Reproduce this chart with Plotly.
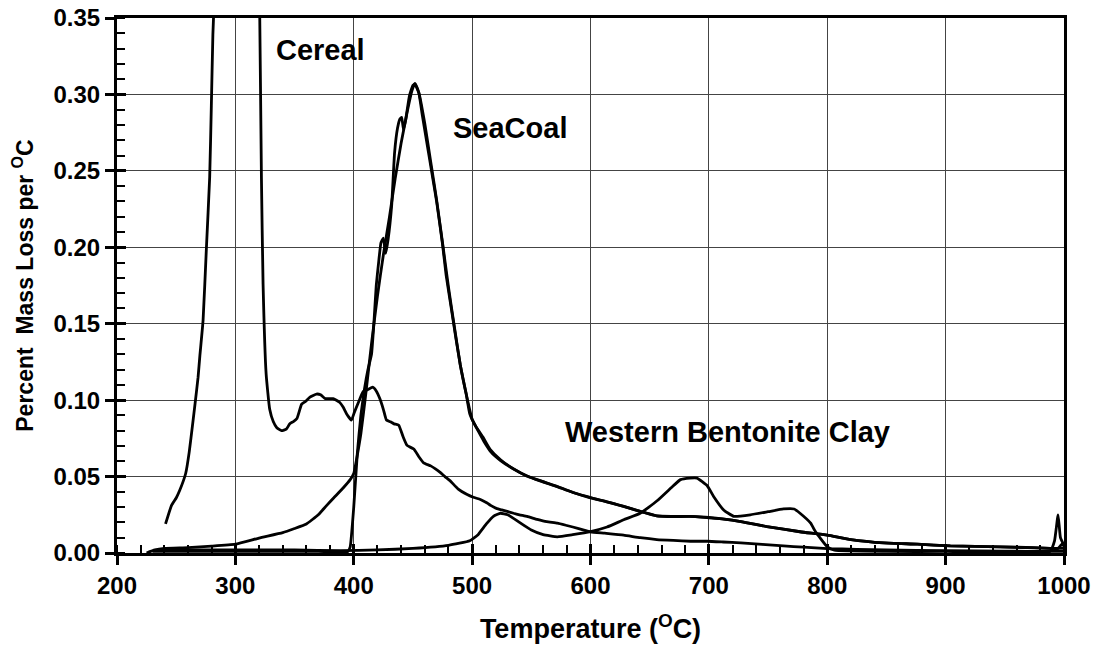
import plotly.graph_objects as go

# Derivative mass-loss curves (percent mass loss per degree C) versus temperature (C)

cereal_T = [241, 246, 250, 253, 258, 261, 264, 266, 268.5, 270, 272.7, 275.5, 278.3, 279.7,
            281, 282.5, 285, 292, 300, 310, 318, 320.6, 322, 323.4, 326, 329, 332, 335, 339,
            343, 346, 349, 352, 356, 359, 363, 368.5, 372, 376, 382.5, 388, 391, 394, 398,
            400.5, 404, 408, 412, 416, 419, 422, 425, 427.6, 431, 434, 438, 441.7, 445, 450.7,
            455, 459, 465, 469, 473, 477, 481.7, 488, 495.8, 501, 507, 512.7, 516, 521, 525,
            529.6, 535, 540, 546.5, 555, 563, 572, 580, 590, 600, 612, 628, 642, 656, 670,
            684.5, 698.6, 712, 727, 745, 763, 780, 800, 825, 850, 900, 950, 990, 1000]
cereal_v = [0.019, 0.031, 0.036, 0.041, 0.052, 0.066, 0.085, 0.098, 0.115, 0.129, 0.152, 0.199,
            0.246, 0.2925, 0.339, 0.37, 0.45, 0.62, 0.72, 0.62, 0.45, 0.35, 0.246, 0.176, 0.117,
            0.094, 0.086, 0.082, 0.080, 0.081, 0.0846, 0.086, 0.088, 0.0974, 0.099, 0.102, 0.104,
            0.1035, 0.101, 0.101, 0.0986, 0.0955, 0.091, 0.0869, 0.092, 0.0986, 0.1056, 0.107,
            0.1085, 0.106, 0.101, 0.094, 0.087, 0.0858, 0.0845, 0.0836, 0.076, 0.0704, 0.068,
            0.063, 0.059, 0.057, 0.055, 0.0527, 0.050, 0.047, 0.042, 0.0383, 0.0365, 0.035,
            0.0327, 0.031, 0.029, 0.0282, 0.0272, 0.026, 0.025, 0.0239, 0.022, 0.0205, 0.0195,
            0.018, 0.016, 0.0139, 0.013, 0.0117, 0.010, 0.0088, 0.0082, 0.0077, 0.0077, 0.0072,
            0.0066, 0.0056, 0.0046, 0.0038, 0.0029, 0.0024, 0.002, 0.0015, 0.0012, 0.001, 0.001]

seacoal1_T = [225, 232, 240, 260, 280, 300, 320, 340, 350, 360, 370, 377, 383, 391, 397, 400,
              403, 406, 410, 415, 420, 425, 430, 435, 440, 445, 449, 451.5, 455, 460, 465, 470,
              475, 480, 485, 490, 495, 500, 505, 510, 516, 524, 535, 546.5, 558, 572, 586, 600,
              614, 628, 642, 656, 670, 684, 700, 713, 727, 749, 777, 800, 820, 848, 876, 904,
              946, 975, 995, 999, 1000]
seacoal1_v = [0.000, 0.002, 0.003, 0.0035, 0.0045, 0.0058, 0.0098, 0.0133, 0.016, 0.019, 0.025,
              0.031, 0.036, 0.0425, 0.048, 0.052, 0.064, 0.078, 0.103, 0.137, 0.168, 0.195, 0.219,
              0.245, 0.268, 0.288, 0.302, 0.307, 0.301, 0.281, 0.256, 0.231, 0.203, 0.174, 0.148,
              0.123, 0.104, 0.0875, 0.080, 0.073, 0.066, 0.0605, 0.055, 0.0504, 0.047, 0.0435,
              0.0394, 0.036, 0.0335, 0.0305, 0.0272, 0.0243, 0.0238, 0.0239, 0.023, 0.0222,
              0.0206, 0.0173, 0.0139, 0.0117, 0.0088, 0.0066, 0.0058, 0.0046, 0.004, 0.0035,
              0.003, 0.0065, 0.004]

seacoal2_T = [230, 260, 300, 340, 370, 395, 397, 400, 403, 406, 409, 412, 415, 417, 419, 421,
              423, 425, 427, 429, 432, 434.5, 437, 439, 440.5, 442, 444, 447, 450, 452, 455, 458,
              461, 464, 467, 470, 475, 478, 482, 486, 490, 495, 498, 503, 509, 515, 524, 535,
              546, 555, 566, 586, 606, 628, 642, 656, 670, 684, 700, 727, 749, 777, 800, 820,
              848, 876, 904, 946, 989, 1000]
seacoal2_v = [0.001, 0.001, 0.001, 0.001, 0.001, 0.001, 0.004, 0.030, 0.065, 0.090, 0.107, 0.120,
              0.130, 0.150, 0.175, 0.190, 0.203, 0.206, 0.196, 0.205, 0.227, 0.262, 0.278, 0.284,
              0.285, 0.277, 0.284, 0.299, 0.306, 0.307, 0.301, 0.286, 0.272, 0.258, 0.244, 0.230,
              0.202, 0.182, 0.162, 0.142, 0.123, 0.104, 0.091, 0.083, 0.076, 0.068, 0.061, 0.055,
              0.0504, 0.048, 0.045, 0.0394, 0.035, 0.0305, 0.0272, 0.0243, 0.024, 0.0239, 0.0233,
              0.0206, 0.0173, 0.0139, 0.0117, 0.0088, 0.0066, 0.0058, 0.0046, 0.004, 0.003, 0.003]

clay_T = [240, 300, 350, 389, 420, 450, 480, 498, 505, 512, 518, 524, 530, 540, 550, 560, 572,
          585, 600, 614, 628, 642, 656, 670, 676, 684, 690, 698.6, 704, 712.7, 721, 735, 750,
          763, 772, 777, 786, 790, 800, 806, 850, 900, 988, 992, 995, 997, 1000]
clay_v = [0.002, 0.002, 0.002, 0.0015, 0.002, 0.003, 0.005, 0.008, 0.012, 0.019, 0.024, 0.026,
          0.025, 0.020, 0.015, 0.012, 0.0106, 0.012, 0.014, 0.017, 0.0217, 0.026, 0.034, 0.044,
          0.048, 0.049, 0.049, 0.044, 0.037, 0.028, 0.024, 0.025, 0.027, 0.0288, 0.0288, 0.026,
          0.0195, 0.014, 0.004, 0.0018, 0.001, 0.001, 0.001, 0.008, 0.025, 0.010, 0.005]

labels = ["Cereal", "SeaCoal", "Western Bentonite Clay"]
label_T = [332.7, 481.9, 576.6]
label_v = [0.329, 0.278, 0.079]

FONT = "Liberation Sans, Arial, sans-serif"
LINE = dict(color="black", width=2.8, shape="spline", smoothing=0.4)

fig = go.Figure()
for T, v, name in [(cereal_T, cereal_v, "Cereal"),
                   (seacoal1_T, seacoal1_v, "SeaCoal run 1"),
                   (seacoal2_T, seacoal2_v, "SeaCoal run 2"),
                   (clay_T, clay_v, "Western Bentonite Clay")]:
    fig.add_trace(go.Scatter(x=T, y=v, mode="lines", line=LINE, name=name,
                             showlegend=False, hoverinfo="skip"))

for text, tx, ty in zip(labels, label_T, label_v):
    fig.add_annotation(x=tx, y=ty, text=text, showarrow=False, xanchor="left",
                       yanchor="middle", font=dict(family=FONT, size=29, color="black",
                                                   weight="bold"))

grid = "#444444"
fig.update_layout(
    width=1100, height=653,
    margin=dict(l=117, r=36, t=18, b=100),
    paper_bgcolor="white", plot_bgcolor="white",
    font=dict(family=FONT, color="black"),
    xaxis=dict(
        range=[200, 1000], tick0=200, dtick=100, showgrid=True, gridcolor=grid, gridwidth=1,
        zeroline=False, showline=True, linecolor="black", linewidth=3, mirror=True,
        automargin=False,
        ticks="outside", ticklen=9, tickwidth=3, tickcolor="black",
        minor=dict(dtick=20, ticks="inside", ticklen=8, tickwidth=2, tickcolor="black",
                   showgrid=False),
        tickfont=dict(family=FONT, size=24, color="black", weight="bold"),
        title=dict(text="Temperature (<sup>O</sup>C)", standoff=22,
                   font=dict(family=FONT, size=27, color="black", weight="bold")),
    ),
    yaxis=dict(
        range=[0, 0.35], tick0=0, dtick=0.05, tickformat=".2f", showgrid=True,
        gridcolor=grid, gridwidth=1, zeroline=False, showline=True, linecolor="black",
        linewidth=3, mirror=True, automargin=False,
        ticks="outside", ticklen=9, tickwidth=3, tickcolor="black",
        minor=dict(dtick=0.01, ticks="inside", ticklen=8, tickwidth=2, tickcolor="black",
                   showgrid=False),
        tickfont=dict(family=FONT, size=24, color="black", weight="bold"),
        title=dict(text="Percent  Mass Loss per <sup>O</sup>C", standoff=14,
                   font=dict(family=FONT, size=23, color="black", weight="bold")),
    ),
    # overlay axes that draw the inner half of each major tick
    xaxis2=dict(overlaying="x", range=[200, 1000], tick0=200, dtick=100, showgrid=False,
                zeroline=False, showticklabels=False, ticks="inside", ticklen=9,
                tickwidth=3, tickcolor="black", side="bottom", automargin=False),
    yaxis2=dict(overlaying="y", range=[0, 0.35], tick0=0, dtick=0.05, showgrid=False,
                zeroline=False, showticklabels=False, ticks="inside", ticklen=9,
                tickwidth=3, tickcolor="black", side="left", automargin=False),
)
fig.add_trace(go.Scatter(x=[None], y=[None], xaxis="x2", yaxis="y2", showlegend=False,
                         hoverinfo="skip"))

fig.write_html("out.html")
